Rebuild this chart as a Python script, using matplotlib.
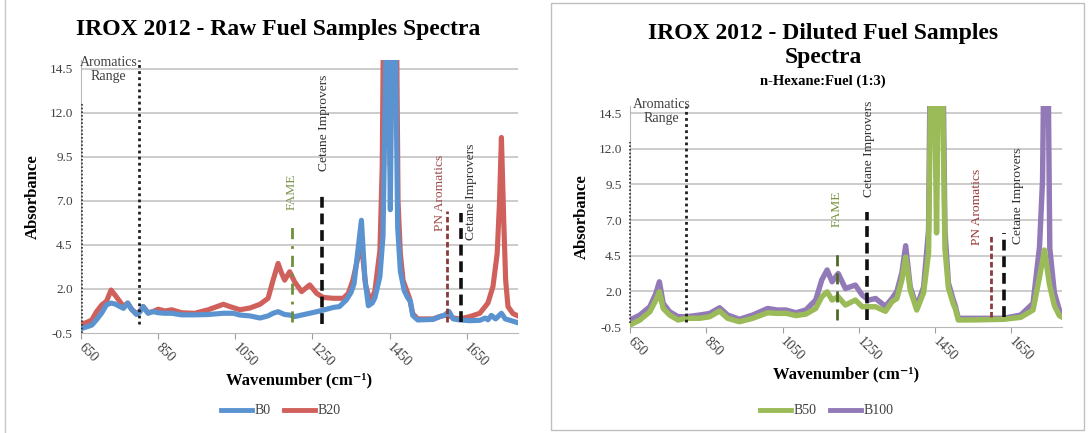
import matplotlib
matplotlib.use("Agg")
import matplotlib.pyplot as plt
from matplotlib.patches import Rectangle
from matplotlib.lines import Line2D

plt.rcParams['font.family'] = ['Liberation Serif', 'DejaVu Serif']

# raw fuel samples
b0_wn = [650, 665, 678, 690, 704, 716, 728, 738, 751, 760, 771, 781, 794, 803, 811,
         824, 837, 850, 868, 885, 911, 945, 980, 1019, 1045, 1062, 1088, 1114, 1135,
         1148, 1161, 1178, 1191, 1204, 1222, 1243, 1261, 1278, 1304, 1320, 1338, 1350,
         1358, 1368, 1377, 1386, 1395, 1405, 1412, 1425, 1433, 1441, 1446, 1452, 1457,
         1465, 1471, 1478, 1488, 1497, 1504, 1510, 1523, 1563, 1580, 1593, 1604, 1615,
         1632, 1658, 1684, 1698, 1705, 1714, 1725, 1740, 1750, 1785]
b0_abs = [-0.25, -0.15, -0.05, 0.25, 0.65, 1.1, 1.2, 1.15, 1.0, 0.9, 1.2, 0.85, 0.55, 0.7, 1.0,
          0.62, 0.72, 0.65, 0.62, 0.62, 0.53, 0.53, 0.55, 0.62, 0.62, 0.52, 0.47, 0.35, 0.47,
          0.62, 0.71, 0.55, 0.52, 0.43, 0.52, 0.62, 0.71, 0.8, 0.95, 1.0, 1.38, 1.8,
          2.3, 4.2, 5.9, 2.6, 1.05, 1.2, 1.5, 2.7, 5.0, 16.0, 18.0, 6.5, 18.0,
          17.0, 5.5, 3.0, 1.9, 1.5, 1.3, 0.5, 0.24, 0.27, 0.43, 0.52, 0.72, 0.3,
          0.24, 0.2, 0.22, 0.35, 0.25, 0.5, 0.3, 0.62, 0.3, 0.07]

b20_wn = [650, 665, 678, 690, 704, 716, 728, 738, 751, 760, 771, 781, 794, 803, 811,
          824, 837, 850, 868, 885, 911, 945, 980, 1019, 1036, 1062, 1088, 1114, 1135,
          1148, 1161, 1170, 1178, 1191, 1204, 1222, 1243, 1261, 1278, 1304, 1330, 1343,
          1355, 1366, 1377, 1388, 1400, 1412, 1425, 1431, 1436, 1446, 1452, 1458, 1467,
          1472, 1478, 1485, 1494, 1502, 1510, 1523, 1563, 1580, 1593, 1604, 1615, 1632,
          1658, 1684, 1705, 1718, 1729, 1735, 1740, 1746, 1751, 1757, 1770, 1785]
b20_abs = [0.0, 0.1, 0.24, 0.7, 1.1, 1.3, 1.94, 1.66, 1.28, 1.0, 1.2, 0.85, 0.6, 0.75, 1.0,
           0.65, 0.72, 0.85, 0.75, 0.82, 0.65, 0.62, 0.82, 1.13, 1.0, 0.82, 0.92, 1.13, 1.47,
           2.5, 3.45, 2.9, 2.5, 2.98, 2.4, 1.85, 2.23, 1.75, 1.52, 1.47, 1.47, 1.75,
           2.5, 3.6, 4.6, 2.2, 1.25, 1.9, 4.2, 9.0, 22.0, 24.0, 9.0, 24.0, 20.0,
           7.0, 4.0, 2.5, 1.94, 1.45, 0.6, 0.3, 0.3, 0.43, 0.5, 0.5, 0.35, 0.3,
           0.43, 0.62, 1.2, 2.13, 4.0, 6.9, 10.6, 5.9, 2.5, 1.0, 0.6, 0.45]

# diluted fuel samples, n-hexane:fuel (1:3)
b50_wn = [650, 676, 702, 718, 727, 737, 754, 776, 798, 833, 859, 885, 906, 937, 972,
          1011, 1037, 1059, 1085, 1111, 1137, 1153, 1167, 1180, 1196, 1215, 1241, 1259,
          1276, 1294, 1320, 1337, 1350, 1363, 1373, 1385, 1402, 1420, 1433, 1440, 1447,
          1454, 1460, 1468, 1476, 1485, 1498, 1503, 1511, 1560, 1630, 1675, 1707, 1724,
          1737, 1750, 1763, 1776, 1783]
b50_abs = [-0.36, -0.01, 0.57, 1.39, 1.97, 0.8, 0.34, -0.01, 0.11, 0.11, 0.22, 0.62, 0.11, -0.13, 0.11,
           0.5, 0.45, 0.46, 0.3, 0.4, 0.8, 1.62, 1.97, 1.39, 1.62, 1.04, 1.39, 0.92,
           0.92, 0.92, 0.6, 1.27, 1.5, 2.8, 4.4, 2.09, 0.69, 1.9, 4.7, 20.0, 20.0,
           6.1, 20.0, 20.0, 5.0, 2.25, 1.1, 0.8, -0.01, 0.0, 0.04, 0.18, 0.69, 3.0,
           4.9, 2.5, 1.0, 0.3, 0.2]

b100_wn = [650, 676, 702, 718, 727, 737, 754, 776, 798, 833, 859, 885, 906, 937, 972,
           1011, 1037, 1059, 1085, 1111, 1137, 1153, 1167, 1180, 1196, 1215, 1241, 1259,
           1276, 1294, 1320, 1337, 1350, 1363, 1373, 1385, 1402, 1420, 1433, 1438, 1447,
           1454, 1460, 1470, 1476, 1485, 1498, 1503, 1511, 1560, 1630, 1675, 1707, 1724,
           1732, 1737, 1745, 1751, 1763, 1776, 1783]
b100_abs = [-0.01, 0.34, 0.92, 1.86, 2.67, 1.16, 0.57, 0.22, 0.22, 0.34, 0.45, 0.85, 0.34, 0.04, 0.34,
            0.8, 0.69, 0.69, 0.5, 0.69, 1.39, 2.8, 3.5, 2.67, 3.25, 2.2, 2.44, 1.74,
            1.39, 1.5, 0.95, 1.5, 2.0, 3.3, 5.2, 2.3, 0.92, 2.3, 6.3, 20.0, 22.0,
            10.0, 22.0, 20.0, 6.3, 2.6, 1.39, 1.0, 0.11, 0.11, 0.11, 0.34, 1.16, 5.1,
            9.8, 22.0, 22.0, 5.0, 1.9, 0.7, 0.5]

y_ticks = [-0.5, 2.0, 4.5, 7.0, 9.5, 12.0, 14.5]
x_ticks = [650, 850, 1050, 1250, 1450, 1650]

GRID = '#c8c8c8'
TXT = '#404040'


def style_axes(ax):
    ax.set_xlim(650, 1783)
    ax.set_ylim(-0.5, 15.0)
    ax.set_yticks(y_ticks)
    ax.set_yticklabels(['%.1f' % v for v in y_ticks], fontsize=9.5, color=TXT)
    ax.set_xticks(x_ticks)
    ax.set_xticklabels([str(v) for v in x_ticks], rotation=-45, ha='left',
                       va='center', rotation_mode='anchor', fontsize=10, color=TXT)
    ax.tick_params(axis='x', length=4, color='#a0a0a0', pad=5)
    ax.tick_params(axis='y', length=0, pad=6)
    for s in ['top', 'right']:
        ax.spines[s].set_visible(False)
    ax.spines['left'].set_color('#b8b8b8')
    ax.spines['bottom'].set_color('#b8b8b8')
    for v in y_ticks[1:]:
        ax.axhline(v, color=GRID, lw=1.3, zorder=0)
    ax.set_ylabel('Absorbance', fontsize=12, fontweight='bold', labelpad=6)
    ax.set_xlabel('Wavenumber (cm\u207b\u00b9)', fontsize=12, fontweight='bold', labelpad=2)


def markers(ax, lines, labels):
    # vertical guide lines and their rotated captions
    for x, y0, y1, col, ls, lw in lines:
        ax.plot([x, x], [y0, y1], color=col, ls=ls, lw=lw, zorder=5, clip_on=False)
    for x, y, txt, col in labels:
        ax.text(x, y, txt, rotation=90, ha='center', va='bottom', fontsize=9.7,
                color=col, zorder=6)


fig = plt.figure(figsize=(10.88, 4.33), dpi=100)

# ---- left: raw samples
ax1 = fig.add_axes([81 / 1088, 1 - 333 / 433, 437 / 1088, 273 / 433])
style_axes(ax1)
ax1.plot(b20_wn, b20_abs, color='#d0605c', lw=3.7, zorder=3, solid_joinstyle='round')
ax1.plot(b0_wn, b0_abs, color='#5b93d1', lw=3.7, zorder=4, solid_joinstyle='round')
markers(ax1, [
    (653, -0.5, 12.6, '#303030', (0, (1, 1.2)), 1.2),
    (801, 0.0, 15.0, '#202020', (0, (1, 1.2)), 2.0),
    (1196, 0.1, 5.8, '#6f8f3a', (0, (4, 2.5, 1, 2.5)), 2.0),
    (1275, 0.0, 7.5, '#101010', (0, (3, 1.6)), 2.6),
    (1600, 0.1, 6.4, '#8b3a3a', (0, (2, 1)), 2.0),
    (1634, 0.1, 6.3, '#101010', (0, (3, 1.6)), 2.6),
], [
    (1197, 6.5, 'FAME', '#7f9650'),
    (1280, 8.7, 'Cetane Improvers', '#303030'),
    (1582, 5.3, 'PN Aromatics', '#9a4a48'),
    (1660, 4.8, 'Cetane Improvers', '#303030'),
])
ax1.text(722, 14.45, 'Aromatics\nRange', ha='center', va='center', fontsize=10,
         color=TXT, linespacing=1.1, zorder=6)
fig.text(278 / 1088, 1 - 30 / 433, 'IROX 2012 - Raw Fuel Samples Spectra',
         ha='center', va='center', fontsize=17, fontweight='bold')
fig.legend(handles=[Line2D([], [], color='#5b93d1', lw=3.5), Line2D([], [], color='#d0605c', lw=3.5)],
           labels=['B0', 'B20'], loc='center', bbox_to_anchor=(281 / 1088, 1 - 411 / 433),
           ncol=2, frameon=False, fontsize=10, handlelength=2.2, handletextpad=0.2,
           columnspacing=1.0, labelcolor=TXT)

# ---- right: diluted samples
ax2 = fig.add_axes([630 / 1088, 1 - 327 / 433, 432 / 1088, 221 / 433])
style_axes(ax2)
ax2.plot(b100_wn, b100_abs, color='#9279b8', lw=3.9, zorder=3, solid_joinstyle='round')
ax2.plot(b50_wn, b50_abs, color='#9bbb59', lw=3.9, zorder=4, solid_joinstyle='round')
markers(ax2, [
    (650, -0.2, 12.45, '#303030', (0, (1, 1.2)), 1.2),
    (798, -0.15, 15.0, '#202020', (0, (1, 1.2)), 2.0),
    (1192, 0.0, 5.0, '#4f6a28', (0, (4, 2.5)), 2.0),
    (1272, 0.0, 7.55, '#101010', (0, (3, 1.6)), 2.6),
    (1596, 0.18, 6.0, '#8b3a3a', (0, (2, 1)), 2.0),
    (1630, 0.18, 6.1, '#101010', (0, (3, 1.6)), 2.6),
], [
    (1193, 6.5, 'FAME', '#77933c'),
    (1278, 8.6, 'Cetane Improvers', '#303030'),
    (1561, 5.25, 'PN Aromatics', '#953735'),
    (1667, 5.35, 'Cetane Improvers', '#303030'),
])
ax2.text(733, 14.6, 'Aromatics\nRange', ha='center', va='center', fontsize=10,
         color=TXT, linespacing=1.1, zorder=6)
fig.text(823 / 1088, 1 - 33 / 433, 'IROX 2012 - Diluted Fuel Samples',
         ha='center', va='center', fontsize=17, fontweight='bold')
fig.text(823 / 1088, 1 - 58 / 433, 'Spectra',
         ha='center', va='center', fontsize=17, fontweight='bold')
fig.text(823 / 1088, 1 - 81 / 433, 'n-Hexane:Fuel (1:3)',
         ha='center', va='center', fontsize=10.5, fontweight='bold')
fig.legend(handles=[Line2D([], [], color='#9bbb59', lw=3.5), Line2D([], [], color='#9279b8', lw=3.5)],
           labels=['B50', 'B100'], loc='center', bbox_to_anchor=(827 / 1088, 1 - 411 / 433),
           ncol=2, frameon=False, fontsize=10, handlelength=2.2, handletextpad=0.2,
           columnspacing=1.0, labelcolor=TXT)

# chart frames
fig.add_artist(Line2D([5 / 1088, 5 / 1088], [0, 1], color='#c8c8c8', lw=1.0))
fig.add_artist(Rectangle((551 / 1088, 3 / 433), 533 / 1088, 427 / 433, fill=False,
                         ec='#c0c0c0', lw=1.0))

fig.savefig('out.png', dpi=100)
